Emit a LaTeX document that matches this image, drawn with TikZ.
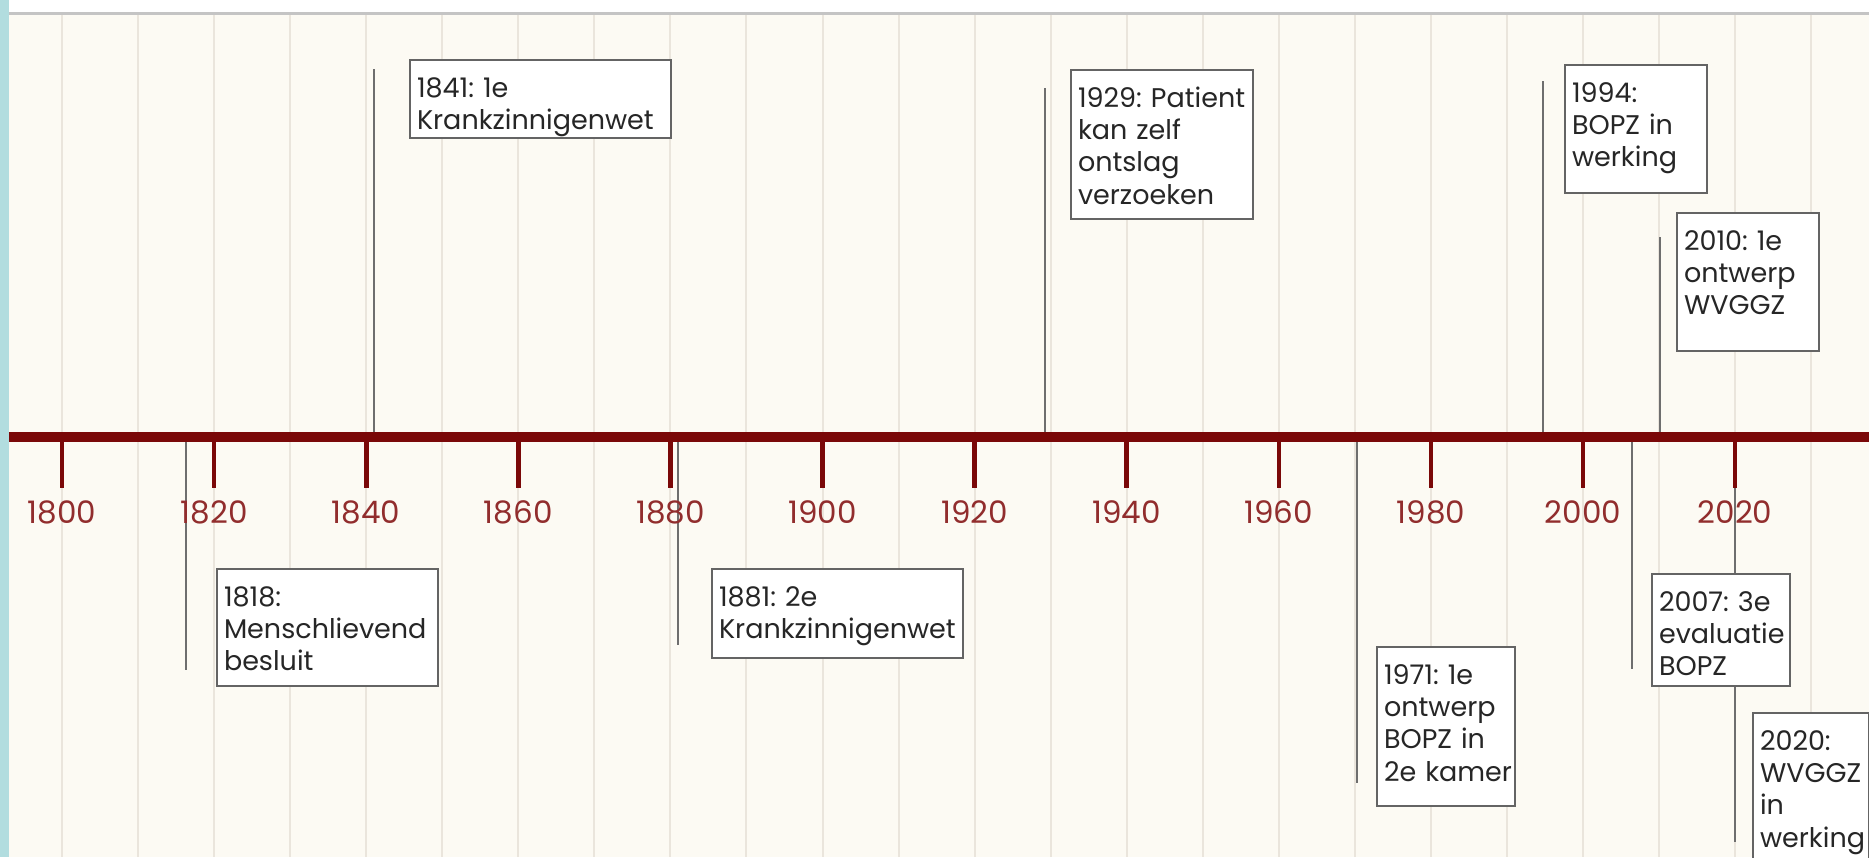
\documentclass[tikz,border=0pt]{standalone}
\usepackage{fontspec}
\setmainfont{Poppins}
\usepackage{tikz}
\usetikzlibrary{calc}
\definecolor{bgcream}{RGB}{252,250,243}
\definecolor{gridbeige}{RGB}{234,229,220}
\definecolor{topgray}{RGB}{196,196,196}
\definecolor{stripteal}{RGB}{178,221,223}
\definecolor{axisred}{RGB}{122,8,8}
\definecolor{yearred}{RGB}{145,45,45}
\definecolor{linegray}{RGB}{110,110,110}
\definecolor{boxgray}{RGB}{100,100,100}
\definecolor{inkgray}{RGB}{38,38,38}

\begin{document}
\begin{tikzpicture}[x=0.5pt,y=-0.5pt]
          \tikzstyle{evbox} = [draw=boxgray, fill=white, line width=1pt, anchor=north west, align=left, inner xsep=3.5pt, inner ysep=0pt, text height=18.5pt, text=inkgray, font=\fontsize{13.5}{16.2}\selectfont]
          \tikzstyle{evline} = [draw=linegray, line width=1pt]
          \tikzstyle{gridline} = [draw=gridbeige, line width=1pt]
          \tikzstyle{tick} = [draw=axisred, line width=2.3pt]
          \tikzstyle{yearlbl} = [anchor=base, inner sep=0pt, text=yearred, font=\fontsize{15.5}{18}\selectfont]

          \useasboundingbox (0,0) rectangle (1869,857);
          \clip (0,0) rectangle (1869,857);
          \fill[bgcream] (0,0) rectangle (1869,857);
          \fill[white] (0,0) rectangle (1869,12);
          \draw[topgray, line width=1.5pt] (0,13.5) -- (1869,13.5);
          \fill[stripteal] (0,0) rectangle (9,857);

          \foreach \k in {0,...,23}
            \draw[gridline] ({62+76.05*\k},15) -- ++(0,842);

          \coordinate (a1818) at (186,437);  \coordinate (e1818) at (186,670);
          \coordinate (a1841) at (374,437);  \coordinate (e1841) at (374,69);
          \coordinate (a1881) at (678,437);  \coordinate (e1881) at (678,645);
          \coordinate (a1929) at (1045,437); \coordinate (e1929) at (1045,88);
          \coordinate (a1971) at (1357,437); \coordinate (e1971) at (1357,783);
          \coordinate (a1994) at (1543,437); \coordinate (e1994) at (1543,81);
          \coordinate (a2007) at (1632,437); \coordinate (e2007) at (1632,669);
          \coordinate (a2010) at (1660,437); \coordinate (e2010) at (1660,237);
          \coordinate (a2020) at (1735,437); \coordinate (e2020) at (1735,842);
          \foreach \ev in {1818,1841,1881,1929,1971,1994,2007,2010,2020}
            \draw[evline] (a\ev) -- (e\ev);

          \coordinate (axl) at (9,437);
          \coordinate (axr) at (1869,437);
          \draw[axisred, line width=5pt] (axl) -- (axr);
          \foreach \yr in {1800,1820,...,2020} {
            \draw[tick] ({62+7.605*(\yr-1800)},437) -- ++(0,51);
            \node[yearlbl] (y\yr) at ({62+7.605*(\yr-1800)},523) {\yr};
          }

          \node[evbox, text width=103.5pt, text depth=40pt] (b1818) at (216,568) {1818:\\Menschlievend\\besluit};
          \node[evbox, text width=123.5pt, text depth=20.5pt] (b1841) at (409,59) {1841:~1e\\Krankzinnigenwet};
          \node[evbox, text width=118.5pt, text depth=26pt] (b1881) at (711,568) {1881:~2e\\Krankzinnigenwet};
          \node[evbox, text width=84pt, text depth=56pt] (b1929) at (1070,69) {1929:~Patient\\kan~zelf\\ontslag\\verzoeken};
          \node[evbox, text width=62pt, text depth=61pt] (b1971) at (1376,646) {1971:~1e\\ontwerp\\BOPZ~in\\2e~kamer};
          \node[evbox, text width=64pt, text depth=45.5pt] (b1994) at (1564,64) {1994:\\BOPZ~in\\werking};
          \node[evbox, text width=62pt, text depth=37.5pt] (b2007) at (1651,573) {2007:~3e\\evaluatie\\BOPZ};
          \node[evbox, text width=64pt, text depth=50.5pt] (b2010) at (1676,212) {2010:~1e\\ontwerp\\WVGGZ};
          \node[evbox, text width=51pt, text depth=71.5pt] (b2020) at (1752,712) {2020:\\WVGGZ\\in\\werking};
        \end{tikzpicture}
\end{document}
